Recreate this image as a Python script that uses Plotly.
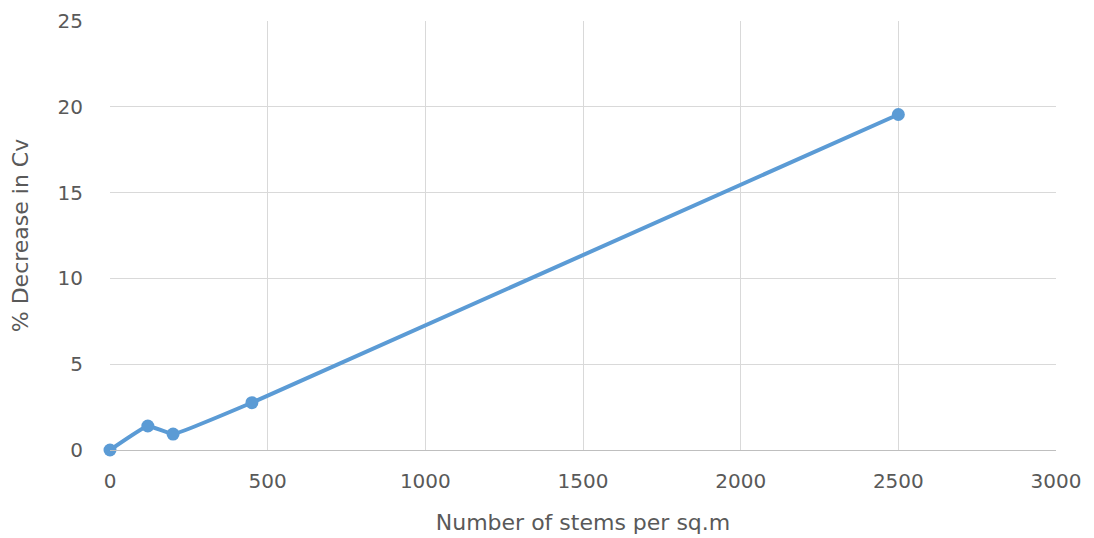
import plotly.graph_objects as go

stems = [0, 120, 200, 450, 2500]
decrease_cv = [0.0, 1.4, 0.93, 2.76, 19.55]

x_ticks = [0, 500, 1000, 1500, 2000, 2500, 3000]
y_ticks = [0, 5, 10, 15, 20, 25]

FONT = "DejaVu Sans, sans-serif"
GREY = "#595959"

fig = go.Figure()
fig.add_trace(go.Scatter(
    x=stems, y=decrease_cv, mode="lines+markers",
    line=dict(color="#5B9BD5", width=4, shape="spline", smoothing=0.3),
    marker=dict(color="#5B9BD5", size=13),
    showlegend=False, cliponaxis=False,
))

fig.update_layout(
    width=1094, height=538,
    margin=dict(l=102, r=46, t=13, b=96),
    paper_bgcolor="white", plot_bgcolor="white",
    font=dict(family=FONT, color=GREY),
)
fig.update_xaxes(
    range=[0, 3000], tickvals=x_ticks, showgrid=True, gridcolor="#D9D9D9",
    gridwidth=1, zeroline=False, showline=True, linecolor="#BFBFBF",
    automargin=False,
    tickfont=dict(size=20, color=GREY, family=FONT), ticks="", ticklabelstandoff=13,
    title=dict(text="Number of stems per sq.m", font=dict(size=22, color=GREY, family=FONT), standoff=22),
)
fig.update_yaxes(
    range=[0, 25], tickvals=y_ticks, showgrid=True, gridcolor="#D9D9D9",
    gridwidth=1, zeroline=False, showline=False,
    automargin=False,
    tickfont=dict(size=20, color=GREY, family=FONT), ticks="", ticklabelstandoff=26,
    title=dict(text="% Decrease in Cv", font=dict(size=22, color=GREY, family=FONT), standoff=28),
)
fig.write_html("out.html")
